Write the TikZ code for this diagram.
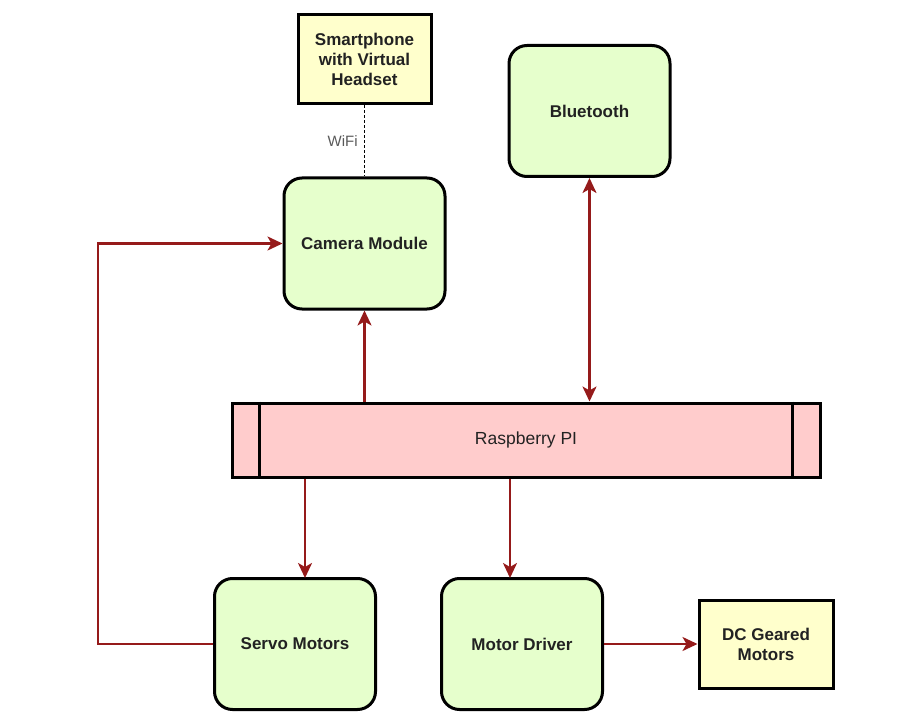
\documentclass[tikz,border=0pt]{standalone}
\usepackage{fontspec}
\setmainfont{Liberation Sans}
\usetikzlibrary{arrows.meta,calc}
\definecolor{grn}{HTML}{E6FFCC}
\definecolor{ylw}{HTML}{FFFFCC}
\definecolor{pnk}{HTML}{FFCCCC}
\definecolor{arrc}{HTML}{951A1A}
\definecolor{txt}{HTML}{222222}
\tikzset{
  base/.style={draw=black, line width=3pt, text=txt, align=center,
    font=\fontsize{17}{20}\selectfont\bfseries, inner sep=0pt},
  gbox/.style={base, fill=grn, rounded corners=18pt, minimum width=161pt, minimum height=131pt},
  ybox/.style={base, fill=ylw},
  rbox/.style={base, fill=pnk, font=\fontsize{17.5}{20}\selectfont},
  tip/.tip={Stealth[length=15pt,width=14pt,inset=4pt]},
  arr/.style={draw=arrc, line width=2.2pt, -tip},
  darr/.style={draw=arrc, line width=2.2pt, tip-tip},
}
\begin{document}
\begin{tikzpicture}[x=1pt,y=-1pt]
\useasboundingbox (0,0) rectangle (897,722);
\node[ybox, minimum width=133pt, minimum height=89pt] (phone) at (364.5,59.5) {Smartphone\\with Virtual\\Headset};
\node[gbox] (cam) at (364.5,243.5) {Camera Module};
\node[gbox] (bt) at (589.5,111) {Bluetooth};
\node[rbox, minimum width=588pt, minimum height=74pt] (rpi) at (526,440) {Raspberry PI};
\draw[line width=3pt] ($(rpi.north west)+(29,0)$) -- ($(rpi.south west)+(29,0)$);
\draw[line width=3pt] ($(rpi.north east)+(-29,0)$) -- ($(rpi.south east)+(-29,0)$);
\node[gbox] (servo) at (295,644) {Servo Motors};
\node[gbox] (md) at (522,644) {Motor Driver};
\node[ybox, minimum width=134pt, minimum height=88pt] (dc) at (766,644) {DC Geared\\Motors};
\coordinate (sv) at (305,578);
\coordinate (mv) at (510,578);
% connectors
\draw[dashed, line width=1pt, dash pattern=on 3pt off 2pt] (phone.south) -- node[left=3pt, font=\fontsize{15}{18}\selectfont, text=black!65] {WiFi} (cam.north);
\draw[arr] (rpi.north -| cam.south) -- (cam.south);
\draw[darr] (rpi.north -| bt.south) -- (bt.south);
\draw[arr] (rpi.south -| sv) -- (sv);
\draw[arr] (rpi.south -| mv) -- (mv);
\draw[arr] (md.east) -- (dc.west);
\draw[arr] (servo.west) -- ++(-115,0) |- (cam.west);
\end{tikzpicture}
\end{document}
